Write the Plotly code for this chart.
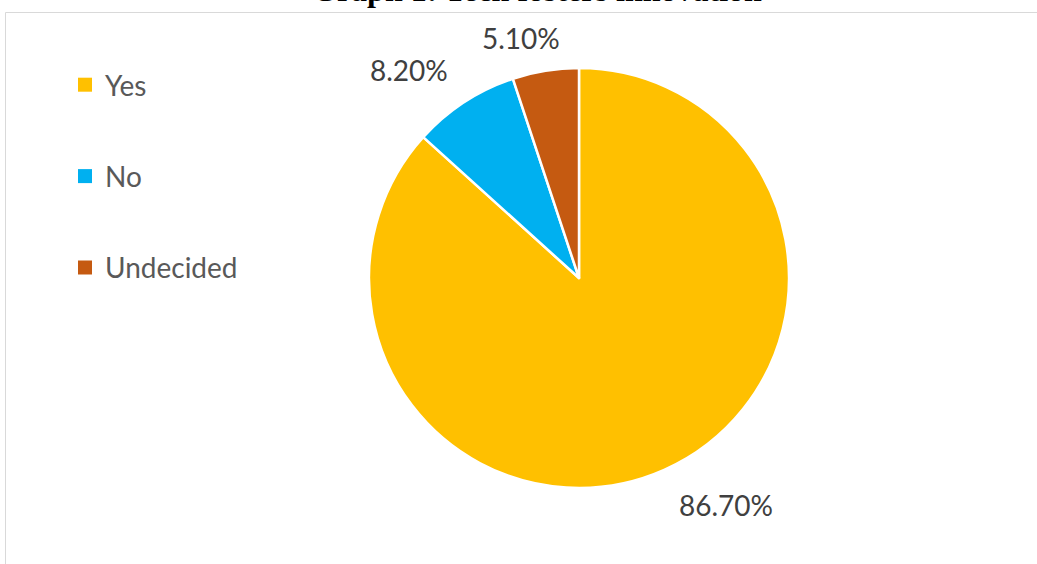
import plotly.graph_objects as go

# ---- data ----
categories = ["Yes", "No", "Undecided"]
values = [86.7, 8.2, 5.1]
colors = ["#FFC000", "#00B0F0", "#C55A11"]
title_text = "Graph 1: Tech fosters innovation"

# ---- layout constants (pixels) ----
W, H = 1037, 564
pie_cx, pie_cy, pie_r = 579, 278, 210
label_px = [(726, 505), (409, 70), (521, 38)]  # label centres for each slice

fig = go.Figure()

fig.add_trace(go.Pie(
    labels=categories,
    values=values,
    sort=False,
    direction="clockwise",
    rotation=0,
    textinfo="none",
    hoverinfo="label+percent",
    marker=dict(colors=colors, line=dict(color="white", width=2.5)),
    showlegend=False,
    domain=dict(
        x=[(pie_cx - pie_r) / W, (pie_cx + pie_r) / W],
        y=[(H - pie_cy - pie_r) / H, (H - pie_cy + pie_r) / H],
    ),
))

# legend entries (dummy traces so the items can be spaced out)
for cat, col in zip(categories, colors):
    fig.add_trace(go.Scatter(
        x=[None], y=[None], mode="markers", name=cat, legendgroup=cat,
        marker=dict(symbol="square", size=14, color=col),
        showlegend=True,
    ))

annotations = []
for v, (px, py) in zip(values, label_px):
    annotations.append(dict(
        x=px / W, y=1 - py / H, xref="paper", yref="paper",
        text=f"{v:.2f}%", showarrow=False,
        xanchor="center", yanchor="middle",
        font=dict(family="Lato, Open Sans, sans-serif", size=28, color="#404040"),
    ))
annotations.append(dict(
    x=537 / W, y=1 + 10 / H, xref="paper", yref="paper",
    text=f"<b>{title_text}</b>", showarrow=False,
    xanchor="center", yanchor="middle",
    font=dict(family="Liberation Serif, Times New Roman, serif", size=32, color="#000000"),
))

fig.update_layout(
    width=W, height=H,
    margin=dict(l=0, r=0, t=0, b=0),
    paper_bgcolor="white", plot_bgcolor="white",
    xaxis=dict(visible=False), yaxis=dict(visible=False),
    annotations=annotations,
    shapes=[dict(
        type="rect", xref="paper", yref="paper",
        x0=5.5 / W, x1=1.05, y0=-0.05, y1=1 - 12.5 / H,
        line=dict(color="#D9D9D9", width=1), fillcolor="rgba(0,0,0,0)",
        layer="below",
    )],
    legend=dict(
        x=65 / W, y=1 - 60 / H, xanchor="left", yanchor="top",
        font=dict(family="Lato, Open Sans, sans-serif", size=28, color="#595959"),
        tracegroupgap=52, itemsizing="trace", bgcolor="rgba(0,0,0,0)",
    ),
    showlegend=True,
)

fig.write_html(
    "out.html",
    config={"displayModeBar": False},
    post_script="document.body.style.margin='0';document.body.style.overflow='hidden';",
)
